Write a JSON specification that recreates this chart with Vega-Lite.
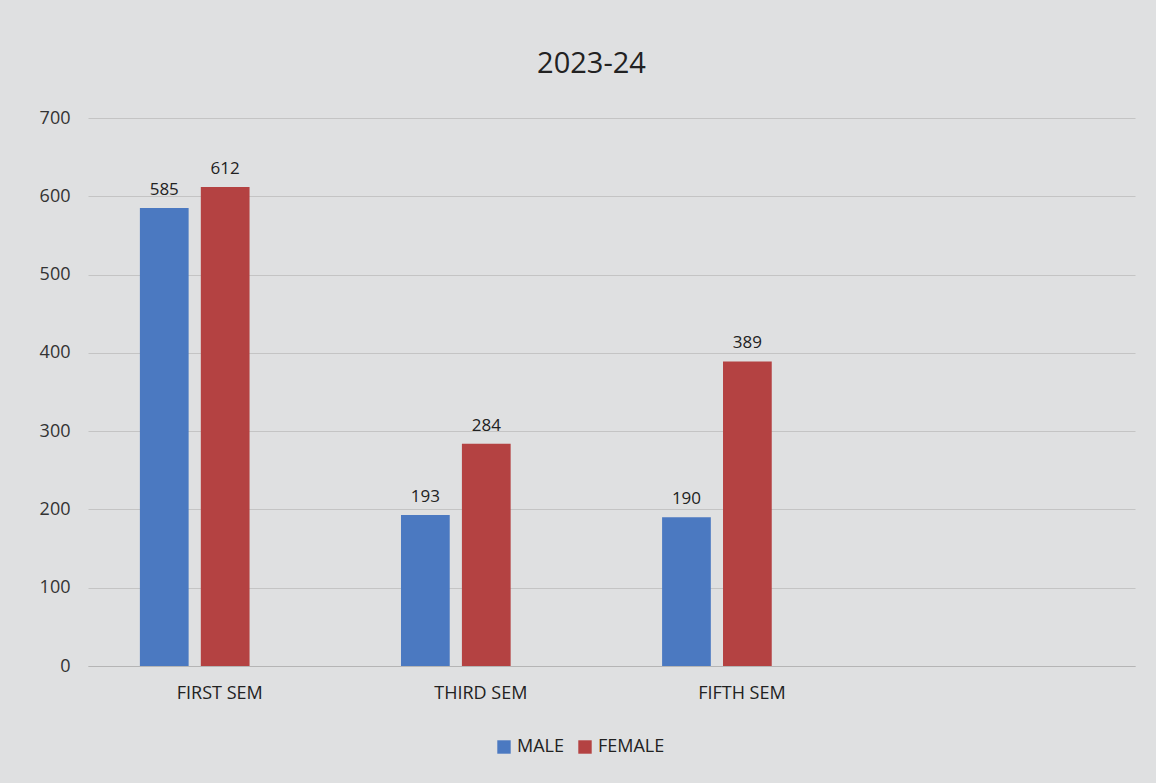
{
  "$schema": "https://vega.github.io/schema/vega-lite/v6.json",
  "autosize": "none",
  "width": 1047,
  "height": 548,
  "padding": {"left": 88, "top": 118, "right": 21, "bottom": 117},
  "background": "#dfe0e1",
  "title": {"text": "2023-24", "fontSize": 29, "font": "Open Sans", "fontWeight": "normal", "color": "#222222", "offset": 30, "dx": -20},
  "config": {"view": {"stroke": null}, "font": "Open Sans"},
  "data": {"values": [
    {"sem": "FIRST SEM", "gender": "MALE", "count": 585},
    {"sem": "FIRST SEM", "gender": "FEMALE", "count": 612},
    {"sem": "THIRD SEM", "gender": "MALE", "count": 193},
    {"sem": "THIRD SEM", "gender": "FEMALE", "count": 284},
    {"sem": "FIFTH SEM", "gender": "MALE", "count": 190},
    {"sem": "FIFTH SEM", "gender": "FEMALE", "count": 389}
  ]},
  "encoding": {
    "x": {"field": "sem", "type": "nominal", "sort": ["FIRST SEM", "THIRD SEM", "FIFTH SEM"],
      "scale": {"paddingInner": 0.58, "paddingOuter": 0.795, "align": 0.125},
      "axis": {"title": null, "labelAngle": 0, "labelFontSize": 18, "labelColor": "#222222", "ticks": false, "domainColor": "#b5b5b5", "labelPadding": 18, "labelOffset": 25}},
    "xOffset": {"field": "gender", "sort": ["MALE", "FEMALE"], "scale": {"paddingInner": 0.2}},
    "y": {"field": "count", "type": "quantitative", "scale": {"domain": [0, 700]},
      "axis": {"title": null, "values": [0, 100, 200, 300, 400, 500, 600, 700], "labelFontSize": 18, "labelColor": "#333333", "domain": false, "ticks": false, "labelPadding": 18, "gridColor": "#c4c4c4", "gridWidth": 1.2}}
  },
  "layer": [
    {"mark": {"type": "bar"},
      "encoding": {"color": {"field": "gender", "type": "nominal", "sort": ["MALE", "FEMALE"],
        "scale": {"domain": ["MALE", "FEMALE"], "range": ["#4b79c1", "#b44242"]},
        "legend": {"title": null, "orient": "none", "legendX": 407, "legendY": 620, "direction": "horizontal", "symbolType": "square", "symbolSize": 180, "labelFontSize": 18, "labelColor": "#222222", "columnPadding": 12, "symbolStrokeWidth": 0}}}},
    {"mark": {"type": "text", "dy": -18, "fontSize": 17, "color": "#222222"},
      "encoding": {"text": {"field": "count", "type": "quantitative"}, "detail": {"field": "gender"}}}
  ]
}
